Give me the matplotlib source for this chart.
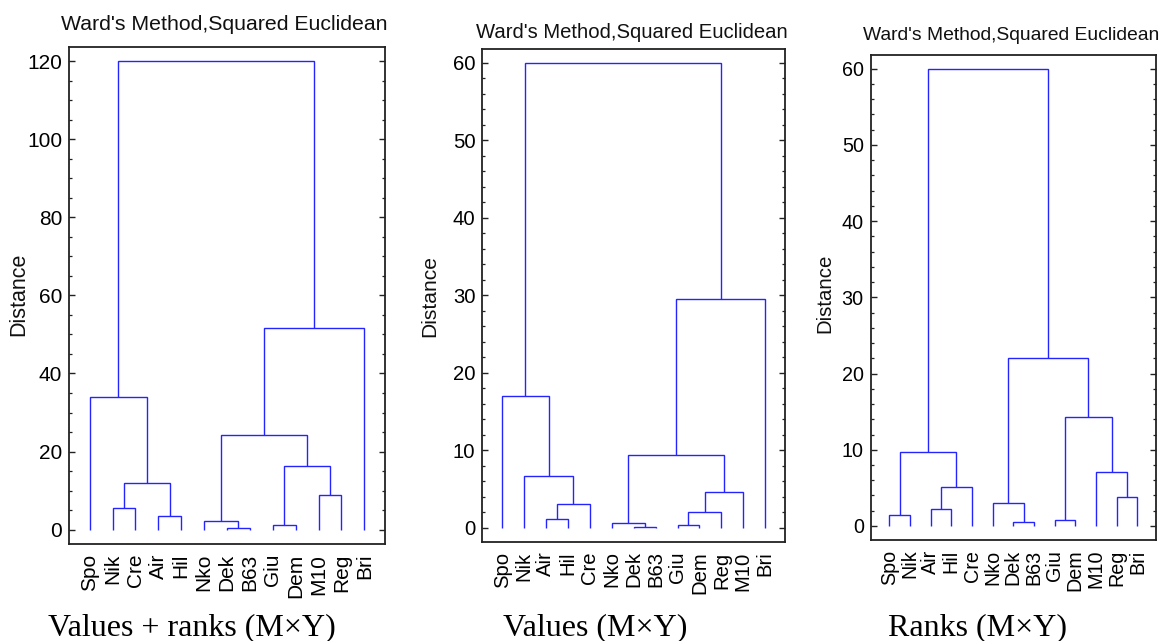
import matplotlib
matplotlib.use("Agg")
import matplotlib.pyplot as plt
from matplotlib.ticker import MultipleLocator

plt.rcParams['font.family'] = ['Liberation Sans', 'DejaVu Sans']

# ---------------- data ----------------
leaves_vr = ["Spo", "Nik", "Cre", "Air", "Hil", "Nko", "Dek", "B63", "Giu", "Dem", "M10", "Reg", "Bri"]
left_vr = [6, 8, 5, 3, 1, 10, 17, 14, 15, 0, 21, 22]
right_vr = [7, 9, 13, 4, 2, 11, 16, 18, 20, 19, 12, 23]
height_vr = [0.5, 1.3, 2.3, 3.6, 5.6, 8.8, 11.9, 16.3, 24.3, 33.9, 51.6, 120.0]

leaves_v = ["Spo", "Nik", "Air", "Hil", "Cre", "Nko", "Dek", "B63", "Giu", "Dem", "Reg", "M10", "Bri"]
left_v = [6, 8, 5, 2, 14, 16, 17, 1, 15, 0, 21, 22]
right_v = [7, 9, 13, 3, 10, 4, 11, 18, 19, 20, 12, 23]
height_v = [0.08, 0.3, 0.6, 1.15, 2.0, 3.0, 4.6, 6.7, 9.4, 17.0, 29.5, 60.0]

leaves_r = ["Spo", "Nik", "Air", "Hil", "Cre", "Nko", "Dek", "B63", "Giu", "Dem", "M10", "Reg", "Bri"]
left_r = [6, 8, 0, 2, 5, 11, 16, 10, 15, 14, 17, 21]
right_r = [7, 9, 1, 3, 13, 12, 4, 18, 19, 20, 22, 23]
height_r = [0.5, 0.8, 1.4, 2.2, 3.0, 3.85, 5.1, 7.1, 9.7, 14.3, 22.0, 60.0]

title_text = "Ward's Method,Squared Euclidean"
captions = ["Values + ranks (M\u00d7Y)", "Values (M\u00d7Y)", "Ranks (M\u00d7Y)"]
ylabel_text = "Distance"

# ---------------- layout ----------------
W, H = 1162, 641
fig = plt.figure(figsize=(W / 100, H / 100), dpi=100)

def px_axes(l, r, t, b):
    return [l / W, (H - b) / H, (r - l) / W, (b - t) / H]

panels = [
    dict(leaves=leaves_vr, left=left_vr, right=right_vr, height=height_vr,
         box=px_axes(69, 385, 47, 544), ylim=(-3.66, 123.6), major=20, minor=5,
         fs=15, title_xy=(224.5, 25), title_fs=15.3, ylab_xy=(19, 294),
         cap_xy=(48, 635)),
    dict(leaves=leaves_v, left=left_v, right=right_v, height=height_v,
         box=px_axes(482.3, 785, 49.3, 541.7), ylim=(-1.81, 61.73), major=10, minor=2,
         fs=14.6, title_xy=(632, 33), title_fs=14.6, ylab_xy=(430, 296),
         cap_xy=(503, 635)),
    dict(leaves=leaves_r, left=left_r, right=right_r, height=height_r,
         box=px_axes(870.7, 1156, 55, 540), ylim=(-1.84, 61.8), major=10, minor=2,
         fs=14.2, title_xy=(1011.5, 35), title_fs=13.9, ylab_xy=(825, 293),
         cap_xy=(888, 635)),
]

line_color = '#2424ff'
spine_color = '#222222'

for i, p in enumerate(panels):
    ax = fig.add_axes(p['box'])
    n = len(p['leaves'])
    xpos = {k: float(k) for k in range(n)}
    hpos = {k: 0.0 for k in range(n)}
    for j, (a, b, h) in enumerate(zip(p['left'], p['right'], p['height'])):
        xa, xb = xpos[a], xpos[b]
        ha, hb = hpos[a], hpos[b]
        ax.plot([xa, xa, xb, xb], [ha, h, h, hb], color=line_color, lw=1.0,
                solid_joinstyle='miter', solid_capstyle='butt')
        xpos[n + j] = (xa + xb) / 2
        hpos[n + j] = h

    ax.set_xlim(-0.9, n - 1 + 0.9)
    ax.set_ylim(*p['ylim'])
    ax.set_xticks(range(n))
    ax.set_xticklabels(p['leaves'], rotation=90, fontsize=p['fs'])
    ax.tick_params(axis='x', length=0, pad=7)
    ax.yaxis.set_major_locator(MultipleLocator(p['major']))
    ax.yaxis.set_minor_locator(MultipleLocator(p['minor']))
    ax.tick_params(axis='y', which='major', direction='in', left=True, right=True,
                   length=4.5, width=1.0, labelsize=p['fs'], pad=5, color=spine_color)
    ax.tick_params(axis='y', which='minor', direction='in', left=True, right=True,
                   length=2.3, width=0.9, color=spine_color)
    for s in ax.spines.values():
        s.set_linewidth(1.3)
        s.set_color(spine_color)

    tx, ty = p['title_xy']
    fig.text(tx / W, 1 - ty / H, title_text, ha='center', va='center',
             fontsize=p['title_fs'], color='#111111')
    lx, ly = p['ylab_xy']
    fig.text(lx / W, 1 - ly / H, ylabel_text, rotation=90, ha='center', va='center',
             fontsize=p['fs'] + 0.5, color='#111111')
    cx, cy = p['cap_xy']
    fig.text(cx / W, 1 - cy / H, captions[i], ha='left', va='baseline',
             fontsize=23, family=['Liberation Serif', 'DejaVu Serif'], color='black')

fig.savefig("out.png", dpi=100, facecolor='white')
